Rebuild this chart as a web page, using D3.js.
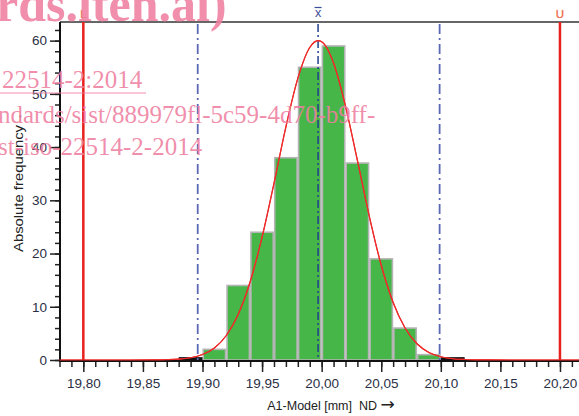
<!DOCTYPE html>
<html><head><meta charset="utf-8">
<script src="https://cdn.jsdelivr.net/npm/d3@7"></script>
<style>
html,body{margin:0;padding:0;background:#fff;}
svg{display:block;}
</style></head>
<body>
<svg id="c" width="579" height="416"></svg>
<script>
// ---- data ----
const binStarts = [19.90, 19.92, 19.94, 19.96, 19.98, 20.00, 20.02, 20.04, 20.06, 20.08];
const binCounts = [2, 14, 24, 38, 55, 59, 37, 19, 6, 1];
const binWidth = 0.02;
const tailStarts = [19.88, 20.10];
const tailCounts = [0.35, 0.35];
const curveX = [19.78,19.80,19.82,19.84,19.86,19.87,19.88,19.89,19.90,19.91,19.92,19.93,19.94,19.95,19.96,19.97,19.98,19.99,19.997,20.00,20.01,20.02,20.03,20.04,20.05,20.06,20.07,20.08,20.09,20.10,20.11,20.12,20.13,20.14,20.16,20.18,20.20,20.22];
const curveY = [0,0,0,0,0.02,0.06,0.16,0.42,1.03,2.27,4.6,8.6,14.7,23.1,33.2,43.8,52.9,58.7,60,59.8,55.8,47.7,37.5,27.0,17.8,10.8,6.0,3.05,1.42,0.61,0.24,0.09,0.03,0.01,0,0,0,0];
const specLimits = [{label:"L", value:19.80},{label:"U", value:20.20}];
const meanValue = 19.997;
const sigmaLines = [19.896, 20.099];
const xTicks = [19.80,19.85,19.90,19.95,20.00,20.05,20.10,20.15,20.20];
const yTicks = [0,10,20,30,40,50,60];
const xLabel = "A1-Model [mm]  ND ";
const yLabel = "Absolute frequency";
const axisArrow = "\u2192";
const watermark = ["rds.iteh.ai)", "22514-2:2014", "ndards/sist/889979fl-5c59-4d70-b9ff-", "st-iso-22514-2-2014"];

// ---- layout ----
const svg = d3.select("#c");
const x = d3.scaleLinear().domain([19.78, 20.22]).range([59.5, 583.8]);
const y = d3.scaleLinear().domain([0, 63.5]).range([360, 22]);
const plotLeft = 60, plotTop = 22, plotBottom = 361;
const font = "Arial, 'Liberation Sans', sans-serif";

// top border
svg.append("line").attr("x1", plotLeft).attr("x2", 579).attr("y1", plotTop).attr("y2", plotTop)
  .attr("stroke", "#333").attr("stroke-width", 1.5);

// bars
svg.append("g").selectAll("rect").data(binStarts).join("rect")
  .attr("x", (d) => x(d) + 0.75)
  .attr("width", (d) => x(d + binWidth) - x(d) - 1.5)
  .attr("y", (d, i) => y(binCounts[i]))
  .attr("height", (d, i) => y(0) - y(binCounts[i]))
  .attr("fill", "#46b649").attr("stroke", "#b4b4b4").attr("stroke-width", 1.6);

// tails
svg.append("g").selectAll("rect").data(tailStarts).join("rect")
  .attr("x", (d) => x(d))
  .attr("width", (d) => x(d + binWidth) - x(d))
  .attr("y", (d, i) => y(tailCounts[i]) - 1)
  .attr("height", (d, i) => y(0) - y(tailCounts[i]) + 1)
  .attr("fill", "#111");

// sigma lines
svg.append("g").selectAll("line").data(sigmaLines).join("line")
  .attr("x1", (d) => x(d)).attr("x2", (d) => x(d))
  .attr("y1", plotTop + 2).attr("y2", y(0))
  .attr("stroke", "#5a68b4").attr("stroke-width", 1.8)
  .attr("stroke-dasharray", "10,4,2,4");

// mean line
svg.append("line").attr("x1", x(meanValue)).attr("x2", x(meanValue))
  .attr("y1", plotTop + 2).attr("y2", y(0))
  .attr("stroke", "#23408e").attr("stroke-width", 1.5)
  .attr("stroke-dasharray", "8,3,2,3");

// normal curve
const line = d3.line().x((d) => x(d)).y((d, i) => y(curveY[i])).curve(d3.curveMonotoneX);
svg.append("path").attr("d", line(curveX)).attr("fill", "none")
  .attr("stroke", "#ee2b2b").attr("stroke-width", 1.2);

// spec limits
svg.append("g").selectAll("line").data(specLimits).join("line")
  .attr("x1", (d) => x(d.value)).attr("x2", (d) => x(d.value))
  .attr("y1", plotTop).attr("y2", plotBottom)
  .attr("stroke", "#e8201e").attr("stroke-width", 2.5);
svg.append("g").selectAll("text").data(specLimits).join("text")
  .attr("x", (d) => x(d.value)).attr("y", 18)
  .attr("text-anchor", "middle").attr("font-family", font).attr("font-size", 11.5)
  .attr("fill", "#e8201e").attr("stroke", "#f6b37a").attr("stroke-width", 0.4)
  .text((d) => d.label);
// x-bar label
const xb = svg.append("g").attr("transform", `translate(${x(meanValue)},0)`);
xb.append("text").attr("x", 0).attr("y", 17).attr("text-anchor", "middle")
  .attr("font-family", font).attr("font-size", 12.5).attr("fill", "#3a4c9a").text("x");
xb.append("line").attr("x1", -3.5).attr("x2", 3.5).attr("y1", 7.5).attr("y2", 7.5)
  .attr("stroke", "#3a4c9a").attr("stroke-width", 1.2);

// y axis
const yAxis = svg.append("g").attr("transform", `translate(${plotLeft},0)`);
yAxis.call(d3.axisLeft(y).tickValues(d3.range(0, 63, 2)).tickSize(5).tickFormat(""));
yAxis.call((g) => g.select(".domain").remove());
yAxis.selectAll(".tick line").attr("stroke", "#222").attr("stroke-width", 1.5);
const yMaj = svg.append("g").attr("transform", `translate(${plotLeft},0)`)
  .call(d3.axisLeft(y).tickValues(yTicks).tickSize(10).tickPadding(3));
yMaj.select(".domain").remove();
yMaj.selectAll(".tick line").attr("stroke", "#222").attr("stroke-width", 1.5);
yMaj.selectAll("text").attr("font-family", font).attr("font-size", 13.5).attr("fill", "#2b2f45");
svg.append("line").attr("x1", plotLeft).attr("x2", plotLeft).attr("y1", plotTop).attr("y2", plotBottom + 1)
  .attr("stroke", "#111").attr("stroke-width", 2);

// x axis
const minorX = d3.range(0, 45).map((i) => +(19.78 + i * 0.01).toFixed(2));
const xMin = svg.append("g").attr("transform", `translate(0,${plotBottom})`)
  .call(d3.axisBottom(x).tickValues(minorX).tickSize(6).tickFormat(""));
xMin.select(".domain").remove();
xMin.selectAll(".tick line").attr("stroke", "#222").attr("stroke-width", 1.5);
const fmt = (d) => d.toFixed(2).replace(".", ",");
const xMaj = svg.append("g").attr("transform", `translate(0,${plotBottom})`)
  .call(d3.axisBottom(x).tickValues(xTicks).tickSize(11).tickPadding(6).tickFormat(fmt));
xMaj.select(".domain").remove();
xMaj.selectAll(".tick line").attr("stroke", "#222").attr("stroke-width", 1.5);
xMaj.selectAll("text").attr("font-family", font).attr("font-size", 13.5).attr("fill", "#2b2f45");
svg.append("line").attr("x1", plotLeft - 1).attr("x2", 579).attr("y1", plotBottom).attr("y2", plotBottom)
  .attr("stroke", "#111").attr("stroke-width", 2);
// curve drawn again so its zero part lies over the axis line, as in the original
svg.append("path").attr("d", line(curveX)).attr("fill", "none")
  .attr("stroke", "#ee2b2b").attr("stroke-width", 1.2);

// axis titles
const xt = svg.append("text").attr("x", 331).attr("y", 410).attr("text-anchor", "middle")
  .attr("font-family", font).attr("font-size", 12.5).attr("fill", "#222")
  .attr("xml:space", "preserve").style("white-space", "pre");
xt.append("tspan").text(xLabel);
xt.append("tspan").attr("font-size", 17).attr("font-family", "'DejaVu Sans', sans-serif").text(axisArrow);
svg.append("text").attr("transform", "translate(22.5,252) rotate(-90)").attr("text-anchor", "start")
  .attr("font-family", font).attr("font-size", 12).attr("fill", "#222")
  .attr("textLength", 127).attr("lengthAdjust", "spacingAndGlyphs").text(yLabel);
svg.append("text").attr("transform", "translate(22,118) rotate(-90)").attr("text-anchor", "middle")
  .attr("font-family", font).attr("font-size", 11).attr("fill", "#222").text(axisArrow);

// watermark overlay
const wmColor = "#ee7ea0";
const wm = svg.append("g").attr("fill", wmColor).attr("fill-opacity", 0.88)
  .attr("font-family", "'Liberation Serif', 'Times New Roman', serif");
wm.append("text").attr("x", -4).attr("y", 21).attr("font-size", 50).attr("font-weight", "bold").text(watermark[0]);
wm.append("text").attr("x", 2).attr("y", 88).attr("font-size", 25).text(watermark[1]);
wm.append("line").attr("x1", 0).attr("x2", 146).attr("y1", 93).attr("y2", 93)
  .attr("stroke", wmColor).attr("stroke-opacity", 0.88).attr("stroke-width", 1.2);
wm.append("text").attr("x", -2).attr("y", 123).attr("font-size", 25).text(watermark[2]);
wm.append("text").attr("x", -2).attr("y", 155).attr("font-size", 25).text(watermark[3]);
</script>
</body></html>
